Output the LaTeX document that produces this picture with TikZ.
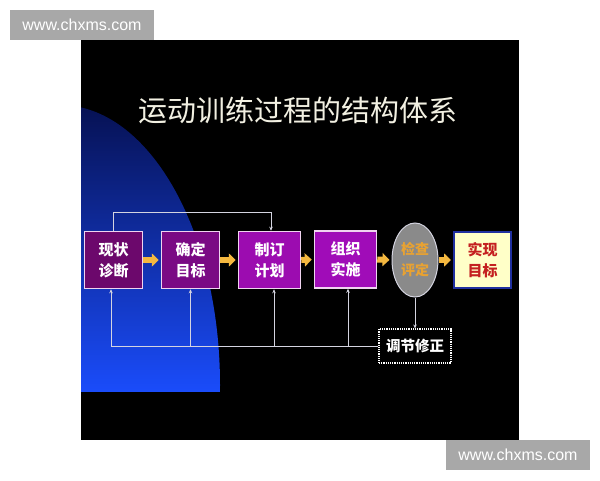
\documentclass[tikz,border=0pt]{standalone}
\usepackage{fontspec}
\setmainfont{Liberation Sans}
\newfontfamily\cjk{Noto Sans CJK SC}
\usetikzlibrary{arrows.meta,shapes.geometric}
\definecolor{titlecol}{HTML}{F2F0E2}
\definecolor{pA}{HTML}{6C086C}
\definecolor{pB}{HTML}{7A0A84}
\definecolor{pC}{HTML}{9C0CB0}
\definecolor{pD}{HTML}{A00CB8}
\definecolor{boxline}{HTML}{F0D4F0}
\definecolor{arrowcol}{HTML}{F4B840}
\definecolor{conncol}{HTML}{D4D4E0}
\definecolor{evalfill}{HTML}{8A8A8A}
\definecolor{evaltext}{HTML}{E8A232}
\definecolor{goalfill}{HTML}{FFFFC8}
\definecolor{goalline}{HTML}{2030A0}
\definecolor{goaltext}{HTML}{C42020}
\definecolor{wmgray}{HTML}{A8A8A8}
\begin{document}
\begin{tikzpicture}[x=1pt,y=-1pt,
  stepbox/.style={draw=boxline,line width=1.5pt,minimum height=57pt,text=white,
    font=\cjk\fontsize{15}{21}\selectfont\bfseries,align=center,inner sep=0pt},
  flowarrow/.style={draw=arrowcol,line width=6pt,shorten >=2pt,
    -{Triangle[width=13pt,length=7pt]}},
  conn/.style={draw=conncol,line width=0.9pt},
  tipped/.style={conn,-{Stealth[length=4pt,width=3.5pt]}},
  wm/.style={fill=wmgray,text=white,font=\fontsize{16}{16}\selectfont,
    minimum width=144pt,minimum height=30pt,inner sep=0pt}]
\useasboundingbox (0,0) rectangle (600,480);
\fill[white] (0,0) rectangle (600,480);
% black slide
\fill[black] (81,40) rectangle (519,440);
% blue shape
\begin{scope}
  \clip (81,40) rectangle (519,391);
  \clip (60,385) ellipse [x radius=160, y radius=280];
  \shade[top color={rgb,255:red,6;green,16;blue,80},
         bottom color={rgb,255:red,26;green,76;blue,250}]
    (81,100) rectangle (230,391);
\end{scope}
% watermarks
\node[wm] (wm1) at (82,24.5) {www.chxms.com};
\node[wm] (wm2) at (518,455) {www.chxms.com};
% title
\node[text=titlecol,font=\cjk\fontsize{29}{29}\selectfont] (title) at (298,110) {运动训练过程的结构体系};
% boxes
\node[stepbox,fill=pA,minimum width=58pt] (b1) at (113.5,260) {现状\\诊断};
\node[stepbox,fill=pB,minimum width=58pt] (b2) at (190.5,260) {确定\\目标};
\node[stepbox,fill=pC,minimum width=62pt] (b3) at (269.5,260) {制订\\计划};
\node[stepbox,fill=pD,minimum width=62pt] (b4) at (345.5,259.5) {组织\\实施};
\node[ellipse,draw=conncol,line width=1pt,fill=evalfill,minimum width=46pt,minimum height=74pt,
  inner sep=0pt,text=evaltext,font=\cjk\fontsize{14}{21}\selectfont\bfseries,align=center] (ev) at (415,260) {检查\\评定};
\node[draw=goalline,line width=2pt,fill=goalfill,minimum width=57pt,minimum height=56pt,inner sep=0pt,
  text=goaltext,font=\cjk\fontsize{15}{21}\selectfont\bfseries,align=center] (b6) at (482.5,260) {实现\\目标};
\node[draw=white,densely dotted,line width=1.2pt,minimum width=72pt,minimum height=34pt,inner sep=0pt,
  text=white,font=\cjk\fontsize{14.5}{14.5}\selectfont\bfseries] (tune) at (415,346) {调节修正};
% flow arrows
\draw[flowarrow] (b1.east) -- (b2.west);
\draw[flowarrow] (b2.east) -- (b3.west);
\draw[flowarrow] (b3.east) -- (b4.west);
\draw[flowarrow] (b4.east) -- (ev.west);
\draw[flowarrow] (ev.east) -- (b6.west);
% top loop
\draw[tipped] (b1.north) -- ++(0,-18) -| ([xshift=1.5pt]b3.north);
% feedback
\coordinate (bl) at (111,346);
\draw[conn] (bl) -- (tune.west);
\draw[tipped] (ev.south) -- (tune.north);
\draw[tipped] ([xshift=-2.5pt]b1.south |- bl) -- ([xshift=-2.5pt]b1.south);
\draw[tipped] (b2.south |- bl) -- (b2.south);
\draw[tipped] ([xshift=4.5pt]b3.south |- bl) -- ([xshift=4.5pt]b3.south);
\draw[tipped] ([xshift=2.5pt]b4.south |- bl) -- ([xshift=2.5pt]b4.south);
\end{tikzpicture}
\end{document}
